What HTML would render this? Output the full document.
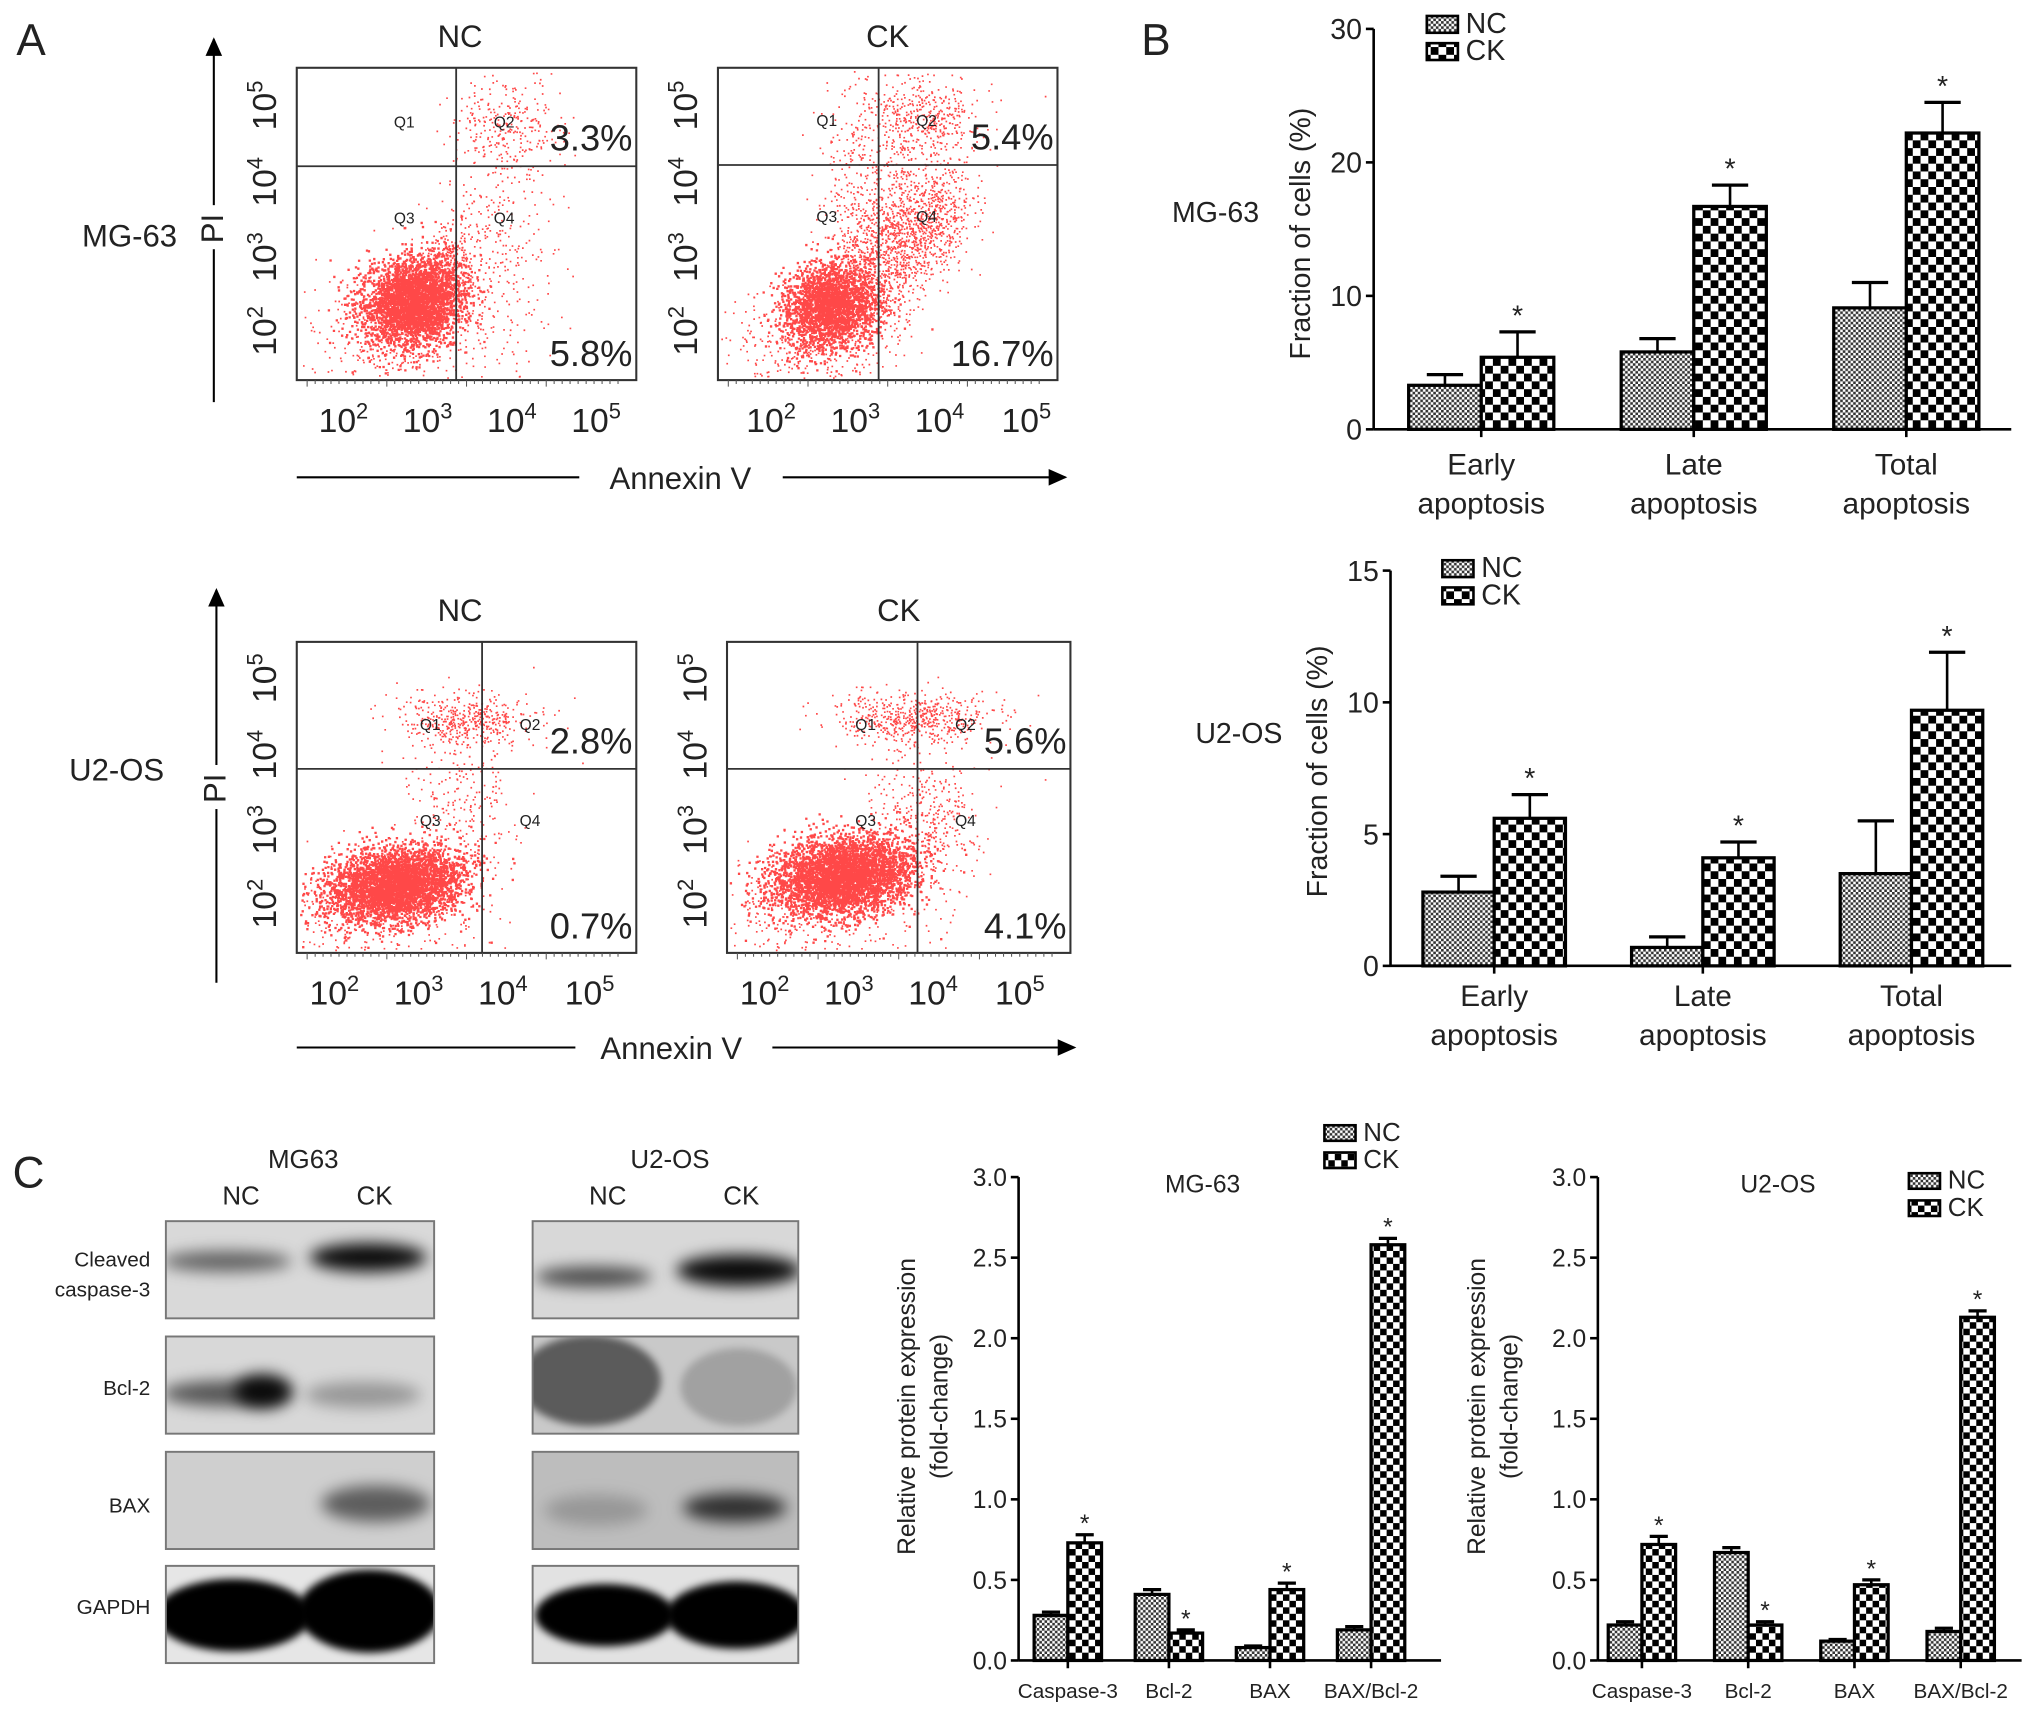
<!DOCTYPE html>
<html><head><meta charset="utf-8">
<style>
html,body{margin:0;padding:0;background:#fff;}
svg{display:block;font-family:"Liberation Sans",Arial,sans-serif;}
</style></head>
<body>
<svg id="fig" width="2032" height="1714" viewBox="0 0 1568 1322" xmlns="http://www.w3.org/2000/svg">
<defs>
<pattern id="pNC" width="4" height="4" patternUnits="userSpaceOnUse">
<rect width="4" height="4" fill="#fff"/><rect width="2" height="2" fill="#333"/><rect x="2" y="2" width="2" height="2" fill="#333"/>
</pattern>
<pattern id="pCK" width="12" height="12" patternUnits="userSpaceOnUse">
<rect width="12" height="12" fill="#fff"/><rect width="6" height="6" fill="#000"/><rect x="6" y="6" width="6" height="6" fill="#000"/>
</pattern>
<pattern id="pCKs" width="10" height="10" patternUnits="userSpaceOnUse">
<rect width="10" height="10" fill="#fff"/><rect width="5" height="5" fill="#000"/><rect x="5" y="5" width="5" height="5" fill="#000"/>
</pattern>
<filter id="blur6" x="-30%" y="-80%" width="160%" height="260%"><feGaussianBlur stdDeviation="6"/></filter>
<filter id="blur3" x="-30%" y="-80%" width="160%" height="260%"><feGaussianBlur stdDeviation="3"/></filter>
<marker id="arr" markerWidth="10" markerHeight="10" refX="8" refY="5" orient="auto"><path d="M0,1 L9,5 L0,9 z" fill="#000"/></marker>
</defs>
<g id="root"></g>
</svg>
<script>
// ---------- data ----------
const bCategories = ["Early apoptosis","Late apoptosis","Total apoptosis"];
const mgNC = [3.3, 5.8, 9.1];
const mgNCerr = [0.8, 1.0, 1.9];
const mgCK = [5.4, 16.7, 22.2];
const mgCKerr = [1.9, 1.6, 2.3];
const mgTicks = [0,10,20,30];
const u2NC = [2.8, 0.7, 3.5];
const u2NCerr = [0.6, 0.4, 2.0];
const u2CK = [5.6, 4.1, 9.7];
const u2CKerr = [0.9, 0.6, 2.2];
const u2Ticks = [0,5,10,15];
const cCategories = ["Caspase-3","Bcl-2","BAX","BAX/Bcl-2"];
const cMgNC = [0.28, 0.41, 0.08, 0.19];
const cMgNCerr = [0.02, 0.03, 0.01, 0.02];
const cMgCK = [0.73, 0.17, 0.44, 2.58];
const cMgCKerr = [0.05, 0.02, 0.04, 0.04];
const cU2NC = [0.22, 0.67, 0.12, 0.18];
const cU2NCerr = [0.02, 0.03, 0.01, 0.02];
const cU2CK = [0.72, 0.22, 0.47, 2.13];
const cU2CKerr = [0.05, 0.02, 0.03, 0.04];
const cTicks = [0,0.5,1.0,1.5,2.0,2.5,3.0];
const flowPct = [["3.3%","5.8%"],["5.4%","16.7%"],["2.8%","0.7%"],["5.6%","4.1%"]];

const NS="http://www.w3.org/2000/svg";
const root=document.getElementById('root');
const defs=document.querySelector('defs');
function el(tag,attrs,parent,txt){const e=document.createElementNS(NS,tag);for(const k in attrs)e.setAttribute(k,attrs[k]);if(txt!==undefined)e.textContent=txt;(parent||root).appendChild(e);return e;}
function grp(name,parent){const g=el('g',{},parent);return g;}
function txt(x,y,s,size,parent,name,anchor,rot){const t=el('text',{x:x,y:y,'font-size':size,'text-anchor':anchor||'middle',fill:'#222'},parent,s);if(rot)t.setAttribute('transform','rotate('+rot+' '+x+' '+y+')');return t;}

txt(24,42,"A",34,root,'panel-a-label');
txt(892,42,"B",34,root,'panel-b-label');
txt(22,916,"C",34,root,'panel-c-label');

// ---------- flow cytometry ----------
let seed=12345;
function rnd(){seed=(seed*1103515245+12345)%2147483648;return seed/2147483648;}
function gauss(){return Math.sqrt(-2*Math.log(rnd()+1e-9))*Math.cos(2*Math.PI*rnd());}
function powLabel(x,y,e,size,parent,rot,name){
  const t=el('text',{x:x,y:y,'font-size':size,'text-anchor':'middle',fill:'#222'},parent);
  
  el('tspan',{},t,'10');el('tspan',{dy:-size*0.4,'font-size':size*0.65},t,String(e));
  if(rot)t.setAttribute('transform','rotate('+rot+' '+x+' '+y+')');
}
function flowPlot(name,x0,y0,w,h,vx,hy,title,pcts,clusters){
  const g=grp(name);
  txt(x0+w/2+(name.includes('nc')?-5:0),y0-16,title,24,g,name+'-title');
  const dots=grp(name+'-dots',g);
  let d='';
  clusters.forEach(c=>{const s=c.s||1.3;for(let i=0;i<c.n;i++){const a=gauss(),b=gauss();let px=c.x+a*c.sx+b*c.r, py=c.y+b*c.sy-a*c.r;
    if(px<x0+2||px>x0+w-2||py<y0+2||py>y0+h-2)continue;d+='M'+px.toFixed(1)+' '+py.toFixed(1)+'h'+s+'v'+s+'h-'+s+'z';}});
  el('path',{d:d,fill:'#ff1a1a','fill-opacity':0.8},dots);
  const box=el('rect',{x:x0,y:y0,width:w,height:h,fill:'none',stroke:'#333','stroke-width':1.6},g);
  
  el('line',{x1:vx,y1:y0,x2:vx,y2:y0+h,stroke:'#333','stroke-width':1.4},g);
  el('line',{x1:x0,y1:hy,x2:x0+w,y2:hy,stroke:'#333','stroke-width':1.4},g);
  txt(vx-40,hy-30,'Q1',12,g,name+'-q1');txt(vx+37,hy-30,'Q2',12,g,name+'-q2');
  txt(vx-40,hy+44,'Q3',12,g,name+'-q3');txt(vx+37,hy+44,'Q4',12,g,name+'-q4');
  txt(x0+w-3,hy-12,pcts[0],28,g,name+'-upper-pct','end');
  txt(x0+w-3,y0+h-11,pcts[1],28,g,name+'-lower-pct','end');
  let tk='';for(let i=0;i<40;i++){const xx=x0+8+i*(w-16)/40;tk+='M'+xx.toFixed(1)+' '+(y0+h)+'v'+(i%10==0?5:3);}
  el('path',{d:tk,stroke:'#555','stroke-width':0.8,fill:'none'},g);
  return g;
}
function flowAxes(name,x0,w,y0,h,xs){
  const g=grp(name+'-axis-labels');
  [2,3,4,5].forEach((e,i)=>powLabel(xs[i],y0+h+40,e,26,g,0,name+'-xtick-'+e));
  const ys=[y0+h-38,y0+h-95,y0+h-153,y0+h-212];
  [2,3,4,5].forEach((e,i)=>powLabel(x0-16,ys[i],e,26,g,-90,name+'-ytick-'+e));
}
flowPlot('flow-mg63-nc',229,52,262,241,352,128,'NC',flowPct[0],[
 {x:318,y:232,sx:13,sy:10,r:14,n:3200,s:1.8},{x:345,y:205,sx:10,sy:18,r:0,n:300},{x:385,y:190,sx:22,sy:45,r:0,n:350},{x:390,y:95,sx:22,sy:18,r:0,n:250},{x:300,y:260,sx:35,sy:25,r:0,n:350}]);
flowAxes('flow-mg63-nc',229,262,52,241,[265,330,395,460]);
flowPlot('flow-mg63-ck',554,52,262,241,678,127,'CK',flowPct[1],[
 {x:640,y:235,sx:12,sy:10,r:13,n:2400,s:1.8},{x:682,y:195,sx:18,sy:28,r:0,n:900},{x:718,y:165,sx:16,sy:22,r:0,n:600},{x:712,y:90,sx:22,sy:18,r:0,n:450},{x:665,y:130,sx:18,sy:40,r:0,n:250},{x:620,y:265,sx:35,sy:22,r:0,n:350}]);
flowAxes('flow-mg63-ck',554,262,52,241,[595,660,725,792]);
flowPlot('flow-u2os-nc',229,495,262,240,372,593,'NC',flowPct[2],[
 {x:305,y:682,sx:25,sy:13,r:6,n:3800,s:1.8},{x:360,y:555,sx:26,sy:10,r:0,n:450},{x:355,y:620,sx:22,sy:35,r:0,n:250},{x:290,y:700,sx:40,sy:22,r:0,n:350}]);
flowAxes('flow-u2os-nc',229,262,495,240,[258,323,388,455]);
flowPlot('flow-u2os-ck',561,495,265,240,708,593,'CK',flowPct[3],[
 {x:650,y:675,sx:26,sy:14,r:6,n:4000,s:1.8},{x:705,y:553,sx:30,sy:10,r:0,n:550},{x:712,y:630,sx:22,sy:32,r:0,n:400},{x:630,y:700,sx:40,sy:22,r:0,n:350}]);
flowAxes('flow-u2os-ck',561,265,495,240,[590,655,720,787]);
(function(){
 const g=grp('flow-axis-titles');
 el('line',{x1:165,y1:310,x2:165,y2:30,stroke:'#000','stroke-width':1.6,'marker-end':'url(#arr)'},g);
 el('line',{x1:167,y1:758,x2:167,y2:455,stroke:'#000','stroke-width':1.6,'marker-end':'url(#arr)'},g);
 el('rect',{x:152,y:158,width:26,height:34,fill:'#fff'},g);
 el('rect',{x:154,y:590,width:26,height:34,fill:'#fff'},g);
 txt(172,176,'PI',24,g,'mg63-y-axis-title','middle',-90);
 txt(174,608,'PI',24,g,'u2os-y-axis-title','middle',-90);
 txt(100,190,'MG-63',24,g,'mg63-row-label');
 txt(90,602,'U2-OS',24,g,'u2os-row-label');
 el('line',{x1:229,y1:368,x2:447,y2:368,stroke:'#000','stroke-width':1.6},g);
 el('line',{x1:604,y1:368,x2:822,y2:368,stroke:'#000','stroke-width':1.6,'marker-end':'url(#arr)'},g);
 txt(525,377,'Annexin V',24,g,'mg63-x-axis-title');
 el('line',{x1:229,y1:808,x2:444,y2:808,stroke:'#000','stroke-width':1.6},g);
 el('line',{x1:596,y1:808,x2:829,y2:808,stroke:'#000','stroke-width':1.6,'marker-end':'url(#arr)'},g);
 txt(518,817,'Annexin V',24,g,'u2os-x-axis-title');
})();

// ---------- bar charts ----------
function barChart(o){
  const g=grp(o.name);
  const y=v=>o.y0-(v-o.ticks[0])/(o.ticks[o.ticks.length-1]-o.ticks[0])*(o.y0-o.yTop);
  const x=i=>o.xStart+i*o.gap;
  el('line',{x1:o.ax,y1:o.yTop,x2:o.ax,y2:o.y0,stroke:'#000','stroke-width':2},g);
  el('line',{x1:o.ax,y1:o.y0,x2:o.xEnd,y2:o.y0,stroke:'#000','stroke-width':2},g);
  o.ticks.forEach(t=>{el('line',{x1:o.ax-6,y1:y(t),x2:o.ax,y2:y(t),stroke:'#000','stroke-width':2},g);
    txt(o.ax-9,y(t)+o.tf*0.36,o.fmt(t),o.tf,g,o.name+'-ytick-'+t,'end');});
  o.cats.forEach((c,i)=>{
    const cx=x(i);
    el('line',{x1:cx,y1:o.y0,x2:cx,y2:o.y0+6,stroke:'#000','stroke-width':2},g);
    const series=[[o.nc,o.ncErr,'url(#pNC)',-1,'nc'],[o.ck,o.ckErr,o.ckPat,0,'ck']];
    series.forEach(s=>{
      const v=s[0][i],e=s[1][i],bx=cx+s[3]*o.bw;
      el('line',{x1:bx+o.bw/2,y1:y(v),x2:bx+o.bw/2,y2:y(v+e),stroke:'#000','stroke-width':2},g);
      el('line',{x1:bx+o.bw/2-o.cap,y1:y(v+e),x2:bx+o.bw/2+o.cap,y2:y(v+e),stroke:'#000','stroke-width':2.5},g);
      const r=el('rect',{x:bx,y:y(v),width:o.bw,height:o.y0-y(v),fill:s[2],stroke:'#000','stroke-width':2.5},g);
      
      if(s[4]==='ck')txt(bx+o.bw/2,y(v+e)-o.starGap,'*',o.tf,g,o.name+'-star-'+i);
    });
    o.labelFn(c,cx,g,i);
  });
  txt(o.yl[0],o.yl[1],o.ylab,o.yf,g,o.name+'-y-axis-title','middle',-90);
  if(o.ylab2)txt(o.yl[0]+25,o.yl[1],o.ylab2,o.yf,g,o.name+'-y-axis-title2','middle',-90);
  const lg=grp(o.name+'-legend',g);
  el('rect',{x:o.lg[0],y:o.lg[1],width:o.lgw,height:o.lgh,fill:'url(#pNC)',stroke:'#000','stroke-width':2},lg);
  el('rect',{x:o.lg[0],y:o.lg[1]+o.lgs,width:o.lgw,height:o.lgh,fill:o.ckPat,stroke:'#000','stroke-width':2},lg);
  txt(o.lg[0]+o.lgw+6,o.lg[1]+o.lgh,'NC',o.lf,lg,o.name+'-legend-nc','start');
  txt(o.lg[0]+o.lgw+6,o.lg[1]+o.lgh+o.lgs,'CK',o.lf,lg,o.name+'-legend-ck','start');
  return g;
}
function twoLine(yy){return (c,cx,g,i)=>{const p=c.split(' ');txt(cx,yy,p[0],23,g,'cat-'+i+'-l1');txt(cx,yy+30,p[1],23,g,'cat-'+i+'-l2');};}

barChart({name:'mg63-apoptosis-chart',ax:1060,yTop:22,y0:331,xEnd:1552,ticks:mgTicks,fmt:t=>String(t),tf:22,
 cats:bCategories,nc:mgNC,ncErr:mgNCerr,ck:mgCK,ckErr:mgCKerr,xStart:1143,gap:164,bw:56,cap:14,ckPat:'url(#pCK)',starGap:5,
 labelFn:twoLine(366),ylab:'Fraction of cells (%)',yf:22,yl:[1011,180],lg:[1101,12],lgw:24,lgh:13,lgs:21,lf:22});
txt(938,171,'MG-63',22,root,'mg63-chart-label');
barChart({name:'u2os-apoptosis-chart',ax:1073,yTop:440,y0:745,xEnd:1552,ticks:u2Ticks,fmt:t=>String(t),tf:22,
 cats:bCategories,nc:u2NC,ncErr:u2NCerr,ck:u2CK,ckErr:u2CKerr,xStart:1153,gap:161,bw:55,cap:14,ckPat:'url(#pCK)',starGap:5,
 labelFn:twoLine(776),ylab:'Fraction of cells (%)',yf:22,yl:[1024,595],lg:[1113,432],lgw:24,lgh:13,lgs:21,lf:22});
txt(956,573,'U2-OS',22,root,'u2os-chart-label');

function oneLine(c,cx,g,i){txt(cx,1310,c,16,g,'c-cat-'+i);}
barChart({name:'mg63-protein-chart',ax:786,yTop:908,y0:1281,xEnd:1112,ticks:cTicks,fmt:t=>t.toFixed(1),tf:19,
 cats:cCategories,nc:cMgNC,ncErr:cMgNCerr,ck:cMgCK,ckErr:cMgCKerr,xStart:824,gap:78,bw:26,cap:7,ckPat:'url(#pCKs)',starGap:2,
 labelFn:oneLine,ylab:'Relative protein expression',ylab2:'(fold-change)',yf:19,yl:[706,1085],lg:[1022,868],lgw:24,lgh:12,lgs:21,lf:20});
txt(928,920,'MG-63',19,root,'mg63-protein-title');
barChart({name:'u2os-protein-chart',ax:1233,yTop:908,y0:1281,xEnd:1560,ticks:cTicks,fmt:t=>t.toFixed(1),tf:19,
 cats:cCategories,nc:cU2NC,ncErr:cU2NCerr,ck:cU2CK,ckErr:cU2CKerr,xStart:1267,gap:82,bw:26,cap:7,ckPat:'url(#pCKs)',starGap:2,
 labelFn:oneLine,ylab:'Relative protein expression',ylab2:'(fold-change)',yf:19,yl:[1146,1085],lg:[1473,905],lgw:24,lgh:12,lgs:21,lf:20});
txt(1372,920,'U2-OS',19,root,'u2os-protein-title');

// ---------- western blots ----------
(function(){
 const g=grp('western-blots');
 txt(234,901,'MG63',20,g,'blot-mg63-title');txt(186,929,'NC',20,g,'blot-mg63-nc');txt(289,929,'CK',20,g,'blot-mg63-ck');
 txt(517,901,'U2-OS',20,g,'blot-u2os-title');txt(469,929,'NC',20,g,'blot-u2os-nc');txt(572,929,'CK',20,g,'blot-u2os-ck');
 const rows=[[942,1017],[1031,1106],[1120,1195],[1208,1283]];
 txt(116,977,'Cleaved',16,g,'row-cleaved','end');txt(116,1000,'caspase-3',16,g,'row-caspase','end');
 txt(116,1076,'Bcl-2',16,g,'row-bcl2','end');txt(116,1167,'BAX',16,g,'row-bax','end');txt(116,1245,'GAPDH',16,g,'row-gapdh','end');
 const bg=[['#d9d9d9','#d8d8d8','#cfcfcf','#e6e6e6'],['#d8d8d8','#c9c9c9','#bdbdbd','#e2e2e2']];
 const bands=[
  [0,0,175,973,50,8,0.55],[0,0,284,970,45,11,0.95],
  [0,1,175,1075,50,10,0.6],[0,1,203,1073,22,13,0.9],[0,1,280,1076,45,10,0.3],
  [0,2,290,1160,42,14,0.55],
  [0,3,180,1246,60,28,1],[0,3,285,1243,55,32,1],
  [1,0,458,985,45,8,0.65],[1,0,570,980,48,12,0.95],
  [1,1,455,1065,55,35,0.55],[1,1,570,1070,45,30,0.2],
  [1,2,460,1165,40,12,0.2],[1,2,567,1163,40,11,0.75],
  [1,3,467,1246,54,24,1],[1,3,568,1246,54,26,1]];
 const px=[[128,335],[411,616]];
 [0,1].forEach(p=>rows.forEach((r,ri)=>{
   const cp=el('clipPath',{id:'clip'+p+ri},defs);
   el('rect',{x:px[p][0],y:r[0],width:px[p][1]-px[p][0],height:r[1]-r[0]},cp);
   const cg=el('g',{'clip-path':'url(#clip'+p+ri+')'},g);
   const rect=el('rect',{x:px[p][0],y:r[0],width:px[p][1]-px[p][0],height:r[1]-r[0],fill:bg[p][ri]},cg);
   
   bands.filter(b=>b[0]===p&&b[1]===ri).forEach(b=>{el('ellipse',{cx:b[2],cy:b[3],rx:b[4],ry:b[5],fill:'#000','fill-opacity':b[6],filter:b[5]>20?'url(#blur3)':'url(#blur6)'},cg);});
   el('rect',{x:px[p][0],y:r[0],width:px[p][1]-px[p][0],height:r[1]-r[0],fill:'none',stroke:'#777','stroke-width':1.5},g);
 }));
})();
</script>
</body></html>
